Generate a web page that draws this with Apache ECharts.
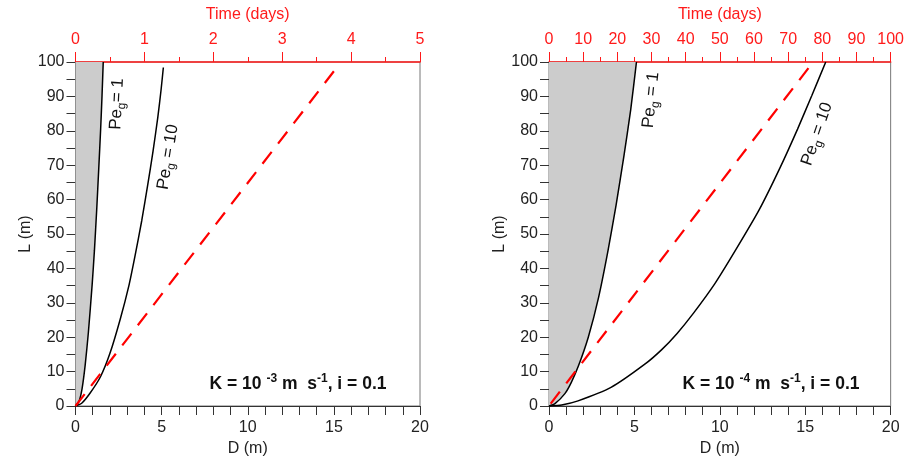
<!DOCTYPE html>
<html>
<head>
<meta charset="utf-8">
<script src="https://cdn.jsdelivr.net/npm/echarts@6/dist/echarts.min.js"></script>
<style>
  html, body { margin: 0; padding: 0; background: #fff; }
  #chart { width: 907px; height: 462px; }
</style>
</head>
<body>
<div id="chart"></div>
<script>
// D (m) vs L (m) curves, as [D, L] pairs
const leftPe1 = [[0, 0], [0.2, 1.3], [0.38, 5], [0.56, 11.8], [0.75, 21.5], [0.97, 35.5], [1.1, 45.3], [1.23, 57], [1.35, 69], [1.46, 80.5], [1.54, 90.2], [1.61, 100]]
const leftPe10 = [[0, 0], [0.36, 0.8], [0.84, 3.7], [1.45, 8.5], [2.0, 15.3], [2.6, 25.3], [3.1, 35], [3.45, 43.5], [3.85, 54], [4.2, 64.5], [4.5, 74], [4.78, 84], [4.97, 92], [5.1, 98.4]]
const leftTime = [[0, 0], [15.0, 97.3]]

const rightPe1 = [[0, 0], [0.35, 0.7], [0.93, 3.6], [1.3, 6.8], [1.72, 11.6], [2.3, 20.0], [2.9, 31.5], [3.46, 45.3], [3.93, 58.5], [4.38, 72.5], [4.78, 86], [5.12, 100]]
const rightPe10 = [[0, 0], [0.74, 0.3], [1.7, 1.5], [3.63, 5.4], [5.57, 12.0], [6.6, 16.4], [7.5, 21.1], [8.46, 27.0], [9.7, 35.5], [10.92, 45.3], [12.3, 57], [13.5, 69], [14.55, 80.5], [15.38, 90.2], [16.2, 100]]
const rightTime = [[0.1, 0.7], [15.2, 98.3]]

const timeMax = [5, 100]
const timeStep = [1, 10]
const dMax = 20
const lMax = 100

const font = 'Liberation Sans, Arial, sans-serif'
const red = '#ff1a1a'

let myChart = echarts.init(document.getElementById('chart'))

function bottomAxis(gi) {
  return {
    type: 'value', gridIndex: gi, position: 'bottom',
    min: 0, max: dMax, interval: 5,
    name: 'D (m)', nameLocation: 'middle', nameGap: 33,
    nameTextStyle: { color: '#222', fontSize: 16, fontFamily: font },
    axisLine: { lineStyle: { color: '#333', width: 1 } },
    axisTick: { length: 9, lineStyle: { color: '#333' } },
    minorTick: { show: true, splitNumber: 5, length: 9, lineStyle: { color: '#333' } },
    axisLabel: { color: '#222', fontSize: 16, fontFamily: font, margin: 14 },
    splitLine: { show: false }
  }
}

function topAxis(gi, i) {
  return {
    type: 'value', gridIndex: gi, position: 'top',
    min: 0, max: timeMax[i], interval: timeStep[i],
    name: 'Time (days)', nameLocation: 'middle', nameGap: 39,
    nameTextStyle: { color: red, fontSize: 16, fontFamily: font },
    axisLine: { lineStyle: { color: red, width: 1.6 } },
    axisTick: { length: 10, lineStyle: { color: red } },
    minorTick: { show: true, splitNumber: 2, length: 5, lineStyle: { color: red } },
    axisLabel: { color: red, fontSize: 16, fontFamily: font, margin: 14 },
    splitLine: { show: false }
  }
}

function leftAxis(gi) {
  return {
    type: 'value', gridIndex: gi,
    min: 0, max: lMax, interval: 10,
    name: 'L (m)', nameLocation: 'middle', nameGap: 39,
    nameTextStyle: { color: '#222', fontSize: 16, fontFamily: font },
    axisLine: { show: true, lineStyle: { color: '#555', width: 1 } },
    axisTick: { length: 9, lineStyle: { color: '#333' } },
    minorTick: { show: true, splitNumber: 2, length: 9, lineStyle: { color: '#333' } },
    axisLabel: { color: '#222', fontSize: 16, fontFamily: font, margin: 11 },
    splitLine: { show: false }
  }
}

function shade(xi, yi, curve) {
  let pts = curve.concat([[0, lMax]])
  return {
    type: 'custom', xAxisIndex: xi, yAxisIndex: yi, z: 1,
    data: pts,
    renderItem: (params, api) => {
      if (params.dataIndex !== 0) return
      return {
        type: 'polygon',
        shape: { points: pts.map(p => api.coord(p)) },
        style: { fill: '#cccccc' }
      }
    }
  }
}

function curve(xi, yi, data) {
  return {
    type: 'line', xAxisIndex: xi, yAxisIndex: yi, z: 3,
    data: data, showSymbol: false, smooth: 0.2,
    lineStyle: { color: '#000', width: 1.5 }
  }
}

function timeLine(xi, yi, data) {
  return {
    type: 'line', xAxisIndex: xi, yAxisIndex: yi, z: 4,
    data: data, showSymbol: false,
    lineStyle: { color: '#ff0000', width: 2.2, type: [15, 10.5], cap: 'butt' }
  }
}

function peLabel(x, y, deg, tail) {
  return {
    type: 'text', x: x, y: y, rotation: deg * Math.PI / 180, z: 10,
    style: {
      text: '{n|Pe}{s|g}{n|' + tail + '}',
      align: 'center', verticalAlign: 'middle',
      rich: {
        n: { fontSize: 17, fontStyle: 'normal', fontFamily: font, fill: '#111', lineHeight: 22, verticalAlign: 'middle' },
        s: { fontSize: 12, fontStyle: 'normal', fontFamily: font, fill: '#111', lineHeight: 12, verticalAlign: 'bottom' }
      }
    }
  }
}

function kLabel(x, y, exp) {
  return {
    type: 'text', x: x, y: y, z: 10,
    style: {
      text: '{b|K = 10 }{p|' + exp + '}{b| m  s}{p|-1}{b|, i = 0.1}',
      align: 'center', verticalAlign: 'middle',
      rich: {
        b: { fontSize: 17.5, fontWeight: 'bold', fontFamily: font, fill: '#111', lineHeight: 22, verticalAlign: 'middle' },
        p: { fontSize: 12, fontWeight: 'bold', fontFamily: font, fill: '#111', lineHeight: 12, verticalAlign: 'top' }
      }
    }
  }
}

let option = {
  backgroundColor: '#fff',
  animation: false,
  grid: [
    { left: 75.5, right: 487, top: 62, bottom: 56, show: true, borderColor: '#777', borderWidth: 1 },
    { left: 549, right: 14, top: 62, bottom: 56, show: true, borderColor: '#777', borderWidth: 1 }
  ],
  xAxis: [bottomAxis(0), topAxis(0, 0), bottomAxis(1), topAxis(1, 1)],
  yAxis: [leftAxis(0), leftAxis(1)],
  series: [
    shade(0, 0, leftPe1),
    curve(0, 0, leftPe1),
    curve(0, 0, leftPe10),
    timeLine(0, 0, leftTime),
    shade(2, 1, rightPe1),
    curve(2, 1, rightPe1),
    curve(2, 1, rightPe10),
    timeLine(2, 1, rightTime)
  ],
  graphic: [
    peLabel(117, 104, 87, '= 1'),
    peLabel(168, 157, 81, ' = 10'),
    peLabel(651, 100, 84, ' = 1'),
    peLabel(817, 134, 71, ' = 10'),
    kLabel(298, 384, '-3'),
    kLabel(771, 384, '-4')
  ]
}
myChart.setOption(option)
</script>
</body>
</html>
